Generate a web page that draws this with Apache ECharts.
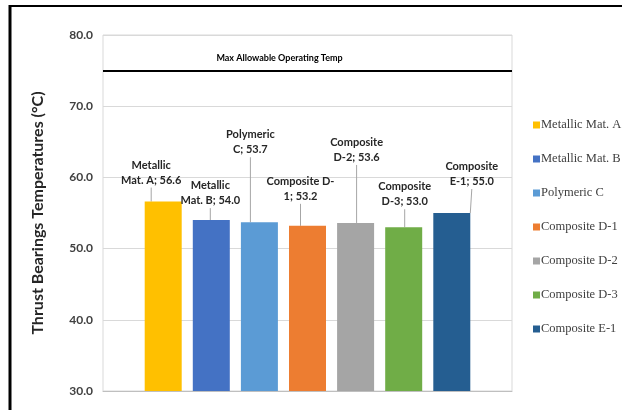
<!DOCTYPE html>
<html>
<head>
<meta charset="utf-8">
<script src="https://cdn.jsdelivr.net/npm/echarts@6/dist/echarts.min.js"></script>
<style>
  html, body { margin: 0; padding: 0; background: #fff; }
  #chart { width: 622px; height: 410px; }
</style>
</head>
<body>
<div id="chart"></div>
<script>
// Materials tested and their thrust bearing temperatures (°C)
const materials = ['Metallic Mat. A', 'Metallic Mat. B', 'Polymeric C', 'Composite D-1', 'Composite D-2', 'Composite D-3', 'Composite E-1'];
const temperatures = [56.6, 54.0, 53.7, 53.2, 53.6, 53.0, 55.0];
// first line of each wrapped data label
const labelHeads = ['Metallic', 'Metallic', 'Polymeric', 'Composite D-', 'Composite', 'Composite', 'Composite'];
const colors = ['#FFC000', '#4472C4', '#5B9BD5', '#ED7D31', '#A5A5A5', '#70AD47', '#255E91'];
const yTicks = [30, 40, 50, 60, 70, 80];
const maxAllowable = 75;
const maxAllowableText = 'Max Allowable Operating Temp';
const yTitle = 'Thrust Bearings Temperatures (°C)';

// label offsets from the bar top (callout placement)
const labelShift = [[-12, -10], [-1, -8], [-9, -61], [-7, -18], [1, -54], [1, -14], [20, -20]];

const chart = echarts.init(document.getElementById('chart'));

const series = materials.map((name, i) => {
  const s = {
    name: name,
    type: 'bar',
    data: [temperatures[i]],
    barWidth: 37,
    barGap: '30%',
    itemStyle: { color: colors[i] },
    label: {
      show: true,
      position: 'top',
      distance: 4,
      fontFamily: 'Lato',
      fontWeight: 'bold',
      fontSize: 11,
      lineHeight: 15,
      color: '#262626',
      align: 'center',
      formatter: (p) => {
        const head = labelHeads[i];
        const rest = name.slice(head.length).trim();
        return head + '\n' + rest + '; ' + p.value.toFixed(1);
      }
    },
    labelLine: {
      show: true,
      lineStyle: { color: '#a6a6a6', width: 1 }
    },
    labelLayout: { dx: labelShift[i][0], dy: labelShift[i][1] }
  };
  if (i === 0) {
    s.markLine = {
      symbol: 'none',
      silent: true,
      lineStyle: { color: '#000', width: 2, type: 'solid' },
      label: {
        show: true,
        position: 'middle',
        formatter: maxAllowableText,
        fontFamily: 'Lato',
        fontWeight: 'bold',
        fontSize: 9,
        color: '#000',
        distance: 8,
        padding: [0, 56, 0, 0]
      },
      data: [{ yAxis: maxAllowable }]
    };
  }
  return s;
});

chart.setOption({
  backgroundColor: '#fff',
  animation: false,
  grid: {
    left: 103, right: 110, top: 35, bottom: 19,
    show: true, borderColor: '#d9d9d9', borderWidth: 1
  },
  legend: {
    orient: 'vertical',
    left: 528,
    top: 112,
    width: 94,
    icon: 'rect',
    itemWidth: 7,
    itemHeight: 7,
    itemGap: 18,
    data: materials,
    textStyle: {
      fontFamily: 'Liberation Serif',
      fontSize: 12.5,
      lineHeight: 16,
      color: '#404040',
      width: 88,
      overflow: 'none',
      padding: [0, 0, 0, -4]
    }
  },
  xAxis: {
    type: 'category',
    data: [''],
    axisTick: { show: false },
    axisLabel: { show: false },
    axisLine: { lineStyle: { color: '#bfbfbf' } }
  },
  yAxis: {
    type: 'value',
    min: yTicks[0],
    max: yTicks[yTicks.length - 1],
    interval: 10,
    name: yTitle,
    nameLocation: 'middle',
    nameRotate: 90,
    nameGap: 57,
    nameTextStyle: { fontFamily: 'Lato', fontWeight: 'bold', fontSize: 16, color: '#262626' },
    axisLine: { show: false },
    axisTick: { show: false },
    splitLine: { lineStyle: { color: '#d9d9d9' } },
    axisLabel: {
      fontFamily: 'Lato',
      fontWeight: 'bold',
      fontSize: 12,
      color: '#404040',
      margin: 10,
      formatter: (v) => v.toFixed(1)
    }
  },
  graphic: [
    { type: 'line', shape: { x1: 9, y1: 6, x2: 622, y2: 6 }, style: { stroke: '#000', lineWidth: 2 } },
    { type: 'line', shape: { x1: 10, y1: 5, x2: 10, y2: 410 }, style: { stroke: '#000', lineWidth: 3 } }
  ],
  series: series
});
</script>
</body>
</html>
